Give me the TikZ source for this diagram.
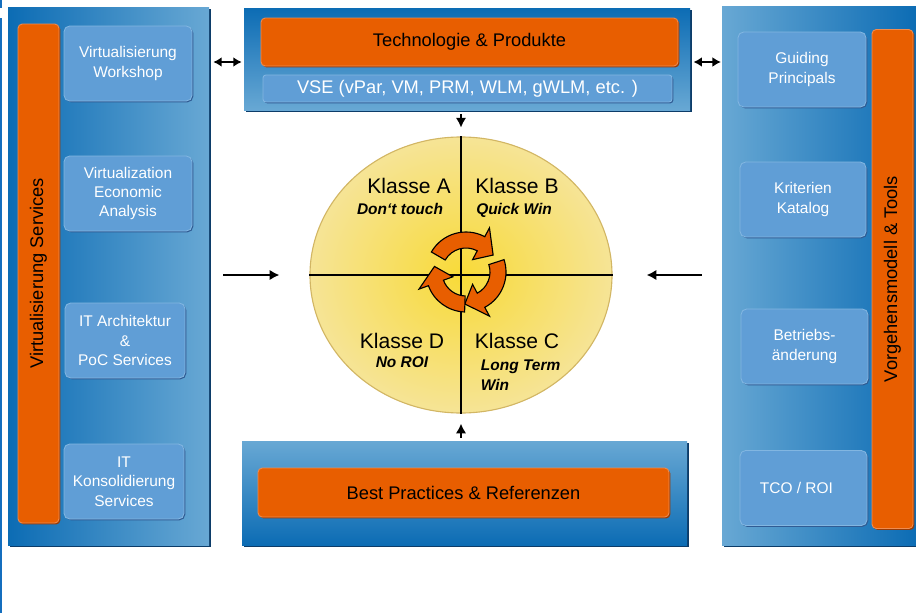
\documentclass[tikz,border=0pt]{standalone}
\usepackage{fontspec}
\setmainfont{Liberation Sans}
\usetikzlibrary{shapes.geometric,shadows,arrows.meta,positioning}
\tikzset{>=Latex}
\definecolor{pdunkel}{RGB}{12,108,180}
\definecolor{phell}{RGB}{104,168,212}
\definecolor{pschatten}{RGB}{12,60,105}
\definecolor{boksfarbe}{RGB}{96,158,214}
\definecolor{boksrand}{RGB}{130,182,225}
\definecolor{boksschatten}{RGB}{48,92,148}
\definecolor{orng}{RGB}{232,94,0}
\definecolor{orngrand}{RGB}{240,140,80}
\definecolor{orngschatten}{RGB}{150,60,10}
\definecolor{kgelb}{RGB}{248,218,56}
\definecolor{khell}{RGB}{246,228,150}
\definecolor{krand}{RGB}{210,182,100}
\definecolor{kante}{RGB}{20,110,190}
\newcommand{\pxu}{0.025cm}

\begin{document}
\begin{tikzpicture}[
    x=\pxu, y=-\pxu,
    panel/.style={rectangle, inner sep=0pt,
        general shadow={fill=pschatten, shadow xshift=1.4pt, shadow yshift=-1.4pt}},
    balken/.style={rectangle, rounded corners=3pt, fill=orng, draw=orngrand, line width=0.6pt,
        inner sep=0pt, font=\fontsize{13}{15}\selectfont,
        general shadow={fill=orngschatten, shadow xshift=1pt, shadow yshift=-1pt}},
    boks/.style={rectangle, rounded corners=4pt, fill=boksfarbe, draw=boksrand, line width=0.6pt,
        text=white, align=center, inner sep=1pt, minimum height=75*\pxu,
        font=\fontsize{11}{13.8}\selectfont,
        general shadow={fill=boksschatten, shadow xshift=0.9pt, shadow yshift=-0.9pt}},
    klasse/.style={font=\fontsize{15}{18}\selectfont},
    merk/.style={font=\fontsize{11}{14}\selectfont\bfseries\itshape},
    pfeil/.style={-{Latex[length=7pt,width=7.5pt]}, line width=2pt},
    dpfeil/.style={{Latex[length=6pt,width=7pt]}-{Latex[length=6pt,width=7pt]}, line width=1.6pt},
    kreispil/.style={fill=orng, draw=black, line width=0.8pt}
    ]
\useasboundingbox (0,0) rectangle (916,613);
\draw[kante, line width=1.4pt] (0.8,0) -- (0.8,8) (0.8,18) -- (0.8,613);

%left panel
\node[panel, left color=pdunkel, right color=phell, minimum width=201*\pxu, minimum height=538*\pxu]
    (lpanel) at (108.5,276) {};
\node[balken, rotate=90, minimum width=499*\pxu, minimum height=41*\pxu]
    (lbalken) at (38.5,273.5) {Virtualisierung Services};
\node[boks, minimum width=128*\pxu] (vw) at (128,63.5) {Virtualisierung\\Workshop};
\node[boks, minimum width=128*\pxu] (vea) at (128,193.5) {Virtualization\\Economic\\Analysis};
\node[boks, minimum width=120*\pxu] (ita) at (125,340.5) {IT Architektur\\\&\\PoC Services};
\node[boks, minimum width=120*\pxu] (itk) at (124,481.5) {IT\\Konsolidierung\\Services};

%top panel
\node[panel, top color=pdunkel, bottom color=phell, minimum width=446*\pxu, minimum height=102*\pxu]
    (tpanel) at (467,59) {};
\node[balken, minimum width=417*\pxu, minimum height=48*\pxu]
    (tbalken) at (469.5,42) {Technologie \& Produkte};
\node[boks, rounded corners=2pt, minimum width=409*\pxu, minimum height=27*\pxu,
    font=\fontsize{13}{15}\selectfont] (vse) at (467.5,88.5) {VSE (vPar, VM, PRM, WLM, gWLM, etc. )};

%bottom panel
\node[panel, top color=phell, bottom color=pdunkel, minimum width=445*\pxu, minimum height=104*\pxu]
    (bpanel) at (464.5,493) {};
\node[balken, minimum width=411*\pxu, minimum height=49*\pxu]
    (bbalken) at (463.5,492.5) {Best Practices \& Referenzen};

%right panel
\node[panel, left color=phell, right color=pdunkel, minimum width=195*\pxu, minimum height=539*\pxu]
    (rpanel) at (819.5,275.5) {};
\node[balken, rotate=90, minimum width=499*\pxu, minimum height=41*\pxu]
    (rbalken) at (892.5,279) {Vorgehensmodell \& Tools};
\node[boks, minimum width=128*\pxu] (gp) at (802,69.5) {Guiding\\Principals};
\node[boks, minimum width=126*\pxu] (kk) at (803,199.5) {Kriterien\\Katalog};
\node[boks, minimum width=127*\pxu] (ba) at (804.5,346.5) {Betriebs-\\änderung};
\node[boks, minimum width=127*\pxu] (tco) at (803.5,488) {TCO / ROI\hspace*{10pt}};

%circle with classes
\node[ellipse, inner sep=0pt, minimum width=302*\pxu, minimum height=276*\pxu,
    shading=radial, inner color=kgelb, outer color=khell, draw=krand, line width=0.8pt]
    (kreis) at (461,275) {};
\draw[line width=1pt] (kreis.north) -- (kreis.south);
\draw[line width=1pt] (kreis.west) -- (kreis.east);
\node[klasse] (klA) at (409,186) {Klasse A};
\node[merk] (klAt) at (400,209) {Don‘t touch};
\node[klasse] (klB) at (517,186) {Klasse B};
\node[merk] (klBt) at (514,210) {Quick Win};
\node[klasse] (klD) at (402,341) {Klasse D};
\node[merk] (klDt) at (402,362) {No ROI};
\node[klasse] (klC) at (517,341) {Klasse C};
\node[merk, anchor=west, align=left] (klCt) at (476,375) {Long Term\\Win};

%cycle
\begin{scope}[shift={(466,272)}, yscale=-1]
\foreach \a/\b [evaluate=\b as \c using \b-30] in {150/62, 18/-62, -92/-160} {
    \draw[kreispil] (\a:40) arc[start angle=\a, end angle=\b, radius=40]
        -- (\b:50) -- (\c:32) -- (\b:14) -- (\b:24)
        arc[start angle=\b, end angle=\a, radius=24] -- cycle;
}
\end{scope}

%arrows
\draw[dpfeil, shorten <=0.1cm, shorten >=0.05cm] (lpanel.east |- 0,62) -- (tpanel.west |- 0,62);
\draw[dpfeil, shorten <=0.08cm, shorten >=0.02cm] (tpanel.east |- 0,62) -- (rpanel.west |- 0,62);
\draw[pfeil, shorten <=0.35cm, shorten >=0.75cm] (lpanel.east |- kreis.west) -- (kreis.west);
\draw[pfeil, shorten <=0.5cm, shorten >=0.85cm] (rpanel.west |- kreis.east) -- (kreis.east);
\draw[pfeil, shorten <=0.1cm, shorten >=0.22cm] (tpanel.south -| kreis.north) -- (kreis.north);
\draw[pfeil, shorten <=0.08cm, shorten >=0.25cm] (bpanel.north -| kreis.south) -- (kreis.south);
\end{tikzpicture}
\end{document}
